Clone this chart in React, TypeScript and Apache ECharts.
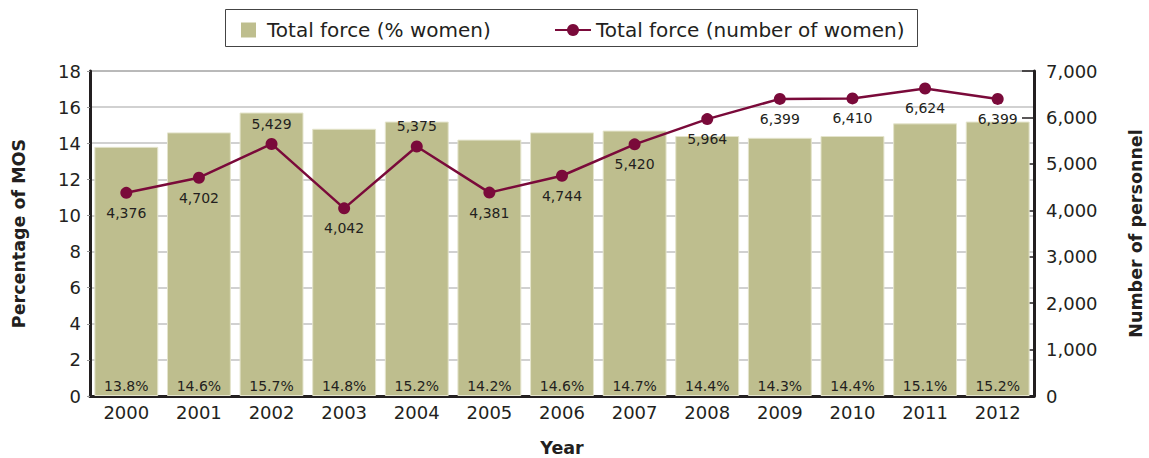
import React, { useEffect, useRef } from "react";
import * as echarts from "echarts";

const years = ["2000", "2001", "2002", "2003", "2004", "2005", "2006", "2007", "2008", "2009", "2010", "2011", "2012"];
const pctWomen = [13.8, 14.6, 15.7, 14.8, 15.2, 14.2, 14.6, 14.7, 14.4, 14.3, 14.4, 15.1, 15.2];
const numWomen = [4376, 4702, 5429, 4042, 5375, 4381, 4744, 5420, 5964, 6399, 6410, 6624, 6399];
const labelsAbove = ["2002", "2004"];

const FONT = "'DejaVu Sans', sans-serif";
const TXT = "#231f20";
const BAR = "#bebe8e";
const LINE = "#7a0a3a";

export default function App() {
  const ref = useRef<HTMLDivElement>(null);
  useEffect(() => {
    if (!ref.current) return;
    const chart = echarts.init(ref.current, undefined, { renderer: "svg" });
    const fmt = (v: number) => v.toLocaleString("en-US");
    const legendText = { fontFamily: FONT, fontSize: 20, color: TXT };
    chart.setOption({
      animation: false,
      textStyle: { fontFamily: FONT, color: TXT },
      graphic: [
        {
          type: "rect",
          shape: { x: 225.5, y: 9.5, width: 692, height: 37 },
          style: { fill: "none", stroke: "#444", lineWidth: 1 },
          silent: true,
        },
      ],
      legend: [
        {
          top: 20,
          left: 241,
          padding: 0,
          itemWidth: 15,
          itemHeight: 15,
          textStyle: { ...legendText, padding: [0, 0, 0, 6] },
          data: [{ name: "Total force (% women)", icon: "rect", itemStyle: { color: BAR, borderWidth: 0 } }],
        },
        {
          top: 20,
          left: 554,
          padding: 0,
          itemWidth: 36,
          itemHeight: 15,
          textStyle: { ...legendText },
          data: [{ name: "Total force (number of women)" }],
        },
      ],
      grid: {
        left: 90,
        right: 115,
        top: 71,
        bottom: 62,
        outerBoundsMode: "none",
        containLabel: false,
        show: true,
        borderColor: "#444",
        borderWidth: 1,
        backgroundColor: "transparent",
      },
      xAxis: {
        type: "category",
        data: years,
        name: "Year",
        nameLocation: "middle",
        nameGap: 43,
        nameTextStyle: { fontFamily: FONT, fontSize: 17.5, fontWeight: "bold", color: TXT },
        axisLine: { lineStyle: { color: "#231f20", width: 3 } },
        axisTick: { show: false },
        axisLabel: { fontFamily: FONT, fontSize: 18, color: TXT, margin: 7 },
      },
      yAxis: [
        {
          type: "value",
          min: 0,
          max: 18,
          interval: 2,
          name: "Percentage of MOS",
          nameLocation: "middle",
          nameGap: 62,
          nameTextStyle: { fontFamily: FONT, fontSize: 17.5, fontWeight: "bold", color: TXT },
          axisLine: { show: true, lineStyle: { color: "#231f20", width: 3 } },
          axisTick: { show: true, length: 3, lineStyle: { color: "#999" } },
          axisLabel: { fontFamily: FONT, fontSize: 18, color: TXT, margin: 9 },
          splitLine: { show: true, lineStyle: { color: "#c2c2c2", width: 1.5 } },
        },
        {
          type: "value",
          min: 0,
          max: 7000,
          interval: 1000,
          position: "right",
          name: "Number of personnel",
          nameLocation: "middle",
          nameGap: 93,
          nameTextStyle: { fontFamily: FONT, fontSize: 17.5, fontWeight: "bold", color: TXT },
          axisLine: { show: true, lineStyle: { color: "#231f20", width: 3 } },
          axisTick: { show: true, inside: true, length: 12, lineStyle: { color: "#231f20", width: 1.5 } },
          axisLabel: { fontFamily: FONT, fontSize: 18, color: TXT, margin: 12, formatter: fmt },
          splitLine: { show: false },
        },
      ],
      series: [
        {
          name: "Total force (% women)",
          type: "bar",
          yAxisIndex: 0,
          data: pctWomen,
          barCategoryGap: "12%",
          itemStyle: { color: BAR, borderColor: "#e4e4cc", borderWidth: 1 },
          label: {
            show: true,
            position: "insideBottom",
            distance: 3,
            fontFamily: FONT,
            fontSize: 14,
            color: TXT,
            formatter: (p: any) => p.value.toFixed(1) + "%",
          },
          z: 1,
        },
        {
          name: "Total force (number of women)",
          type: "line",
          yAxisIndex: 1,
          data: numWomen.map((v, i) => ({
            value: v,
            label: { position: labelsAbove.includes(years[i]) ? "top" : "bottom" },
          })),
          symbol: "circle",
          symbolSize: 12,
          lineStyle: { color: LINE, width: 2.5 },
          itemStyle: { color: LINE },
          label: {
            show: true,
            distance: 7,
            fontFamily: FONT,
            fontSize: 14,
            color: TXT,
            formatter: (p: any) => fmt(p.value),
          },
          z: 3,
        },
      ],
    });
    return () => chart.dispose();
  }, []);
  return <div ref={ref} style={{ width: 1149, height: 458, position: "absolute", left: 0, top: 0 }} />;
}
